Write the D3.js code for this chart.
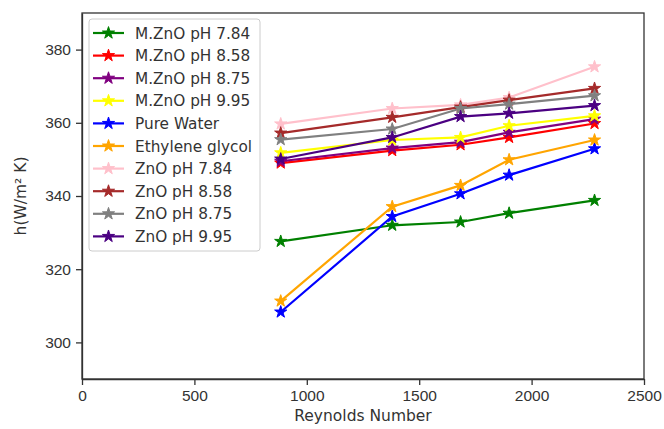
<!DOCTYPE html>
<html lang="en">
<head>
<meta charset="UTF-8">
<title>Heat transfer coefficient vs Reynolds number</title>
<script src="https://cdn.jsdelivr.net/npm/d3@7"></script>
<style>
    body { margin: 0; background: #fff; }
    svg { display: block; font-family: "DejaVu Sans", sans-serif; }
    .axis path, .axis line { stroke: #333; stroke-width: 1.3px; }
    .axis text { fill: #333; font-size: 15.5px; }
    .label { fill: #333; font-size: 15.5px; }
    .legend text { fill: #333; font-size: 15.3px; }
</style>
</head>
<body>
<div id="chart"></div>
<script>
    const width = 664;
    const height = 429;
    const MARGIN = {left: 82, right: 20, top: 13, bottom: 50};

    // data
    const reynolds = [884, 1380, 1684, 1900, 2280];
    const mZno784 = [327.6, 332.0, 332.9, 335.3, 338.8];
    const mZno858 = [349.0, 352.4, 354.0, 356.0, 359.8];
    const mZno875 = [349.5, 353.1, 354.7, 357.4, 361.0];
    const mZno995 = [351.8, 355.3, 356.0, 359.2, 361.9];
    const pureWater = [308.3, 334.4, 340.6, 345.7, 352.9];
    const ethyleneGlycol = [311.3, 337.1, 342.9, 349.9, 355.3];
    const zno784 = [359.7, 363.9, 364.9, 366.9, 375.3];
    const zno858 = [357.2, 361.5, 364.3, 366.2, 369.4];
    const zno875 = [355.4, 358.3, 363.9, 365.1, 367.4];
    const zno995 = [350.1, 356.0, 361.7, 362.6, 364.7];

    const seriesNames = ["M.ZnO pH 7.84", "M.ZnO pH 8.58", "M.ZnO pH 8.75", "M.ZnO pH 9.95",
        "Pure Water", "Ethylene glycol", "ZnO pH 7.84", "ZnO pH 8.58", "ZnO pH 8.75", "ZnO pH 9.95"];
    const seriesValues = [mZno784, mZno858, mZno875, mZno995, pureWater, ethyleneGlycol,
        zno784, zno858, zno875, zno995];
    const seriesColors = ["#008000", "#ff0000", "#800080", "#ffff00", "#0000ff", "#ffa500",
        "#ffc0cb", "#a52a2a", "#808080", "#4b0082"];

    const xTicks = [0, 500, 1000, 1500, 2000, 2500];
    const yTicks = [300, 320, 340, 360, 380];

    const series = seriesNames.map(function (name, i) {
        return {
            name: name,
            color: seriesColors[i],
            points: reynolds.map(function (re, j) { return {x: re, y: seriesValues[i][j]}; })
        };
    });

    const svg = d3.select("#chart").append("svg")
        .attr("width", width)
        .attr("height", height);

    svg.append("rect").attr("width", width).attr("height", height).attr("fill", "#fff");

    const x = d3.scaleLinear().domain([0, 2500]).range([MARGIN.left, width - MARGIN.right]);
    const y = d3.scaleLinear().domain([290, 390]).range([height - MARGIN.bottom, MARGIN.top]);

    const line = d3.line()
        .x(function (d) { return x(d.x); })
        .y(function (d) { return y(d.y); });

    const star = d3.symbol().type(d3.symbolStar).size(46);

    const plot = svg.append("g");
    series.forEach(function (s) {
        const g = plot.append("g");
        g.append("path")
            .datum(s.points)
            .attr("d", line)
            .attr("fill", "none")
            .attr("stroke", s.color)
            .attr("stroke-width", 2.2);
        g.selectAll("path.marker")
            .data(s.points)
            .enter()
            .append("path")
            .attr("class", "marker")
            .attr("d", star)
            .attr("transform", function (d) { return "translate(" + x(d.x) + "," + y(d.y) + ")"; })
            .attr("fill", s.color)
            .attr("stroke", s.color)
            .attr("stroke-width", 1);
    });

    // axes
    svg.append("g")
        .attr("class", "axis")
        .attr("transform", "translate(0," + (height - MARGIN.bottom) + ")")
        .call(d3.axisBottom(x).tickValues(xTicks).tickFormat(d3.format("d"))
            .tickSize(6).tickPadding(5).tickSizeOuter(0));

    svg.append("g")
        .attr("class", "axis")
        .attr("transform", "translate(" + MARGIN.left + ",0)")
        .call(d3.axisLeft(y).tickValues(yTicks).tickFormat(d3.format("d"))
            .tickSize(6).tickPadding(5).tickSizeOuter(0));

    // box spines
    svg.append("rect")
        .attr("x", MARGIN.left)
        .attr("y", MARGIN.top)
        .attr("width", width - MARGIN.left - MARGIN.right)
        .attr("height", height - MARGIN.top - MARGIN.bottom)
        .attr("fill", "none")
        .attr("stroke", "#333")
        .attr("stroke-width", 1.3);

    svg.append("text")
        .attr("class", "label")
        .attr("x", (MARGIN.left + width - MARGIN.right) / 2)
        .attr("y", 421)
        .attr("text-anchor", "middle")
        .text("Reynolds Number");

    svg.append("text")
        .attr("class", "label")
        .attr("transform", "translate(26," + ((MARGIN.top + height - MARGIN.bottom) / 2) + ") rotate(-90)")
        .attr("text-anchor", "middle")
        .text("h(W/m² K)");

    // legend
    const ROW_H = 22.6;
    const legend = svg.append("g").attr("class", "legend").attr("transform", "translate(89,19)");
    legend.append("rect")
        .attr("width", 171)
        .attr("height", 232)
        .attr("rx", 3)
        .attr("fill", "#fff")
        .attr("fill-opacity", 0.85)
        .attr("stroke", "#ccc")
        .attr("stroke-width", 1);

    const rows = legend.selectAll("g.row")
        .data(series)
        .enter()
        .append("g")
        .attr("class", "row")
        .attr("transform", function (d, i) { return "translate(0," + (14 + i * ROW_H) + ")"; });

    rows.append("line")
        .attr("x1", 4).attr("x2", 35)
        .attr("stroke", function (d) { return d.color; })
        .attr("stroke-width", 2.2);
    rows.append("path")
        .attr("d", star)
        .attr("transform", "translate(19.5,0)")
        .attr("fill", function (d) { return d.color; })
        .attr("stroke", function (d) { return d.color; });
    rows.append("text")
        .attr("x", 46)
        .attr("dy", "0.36em")
        .text(function (d) { return d.name; });
</script>
</body>
</html>
